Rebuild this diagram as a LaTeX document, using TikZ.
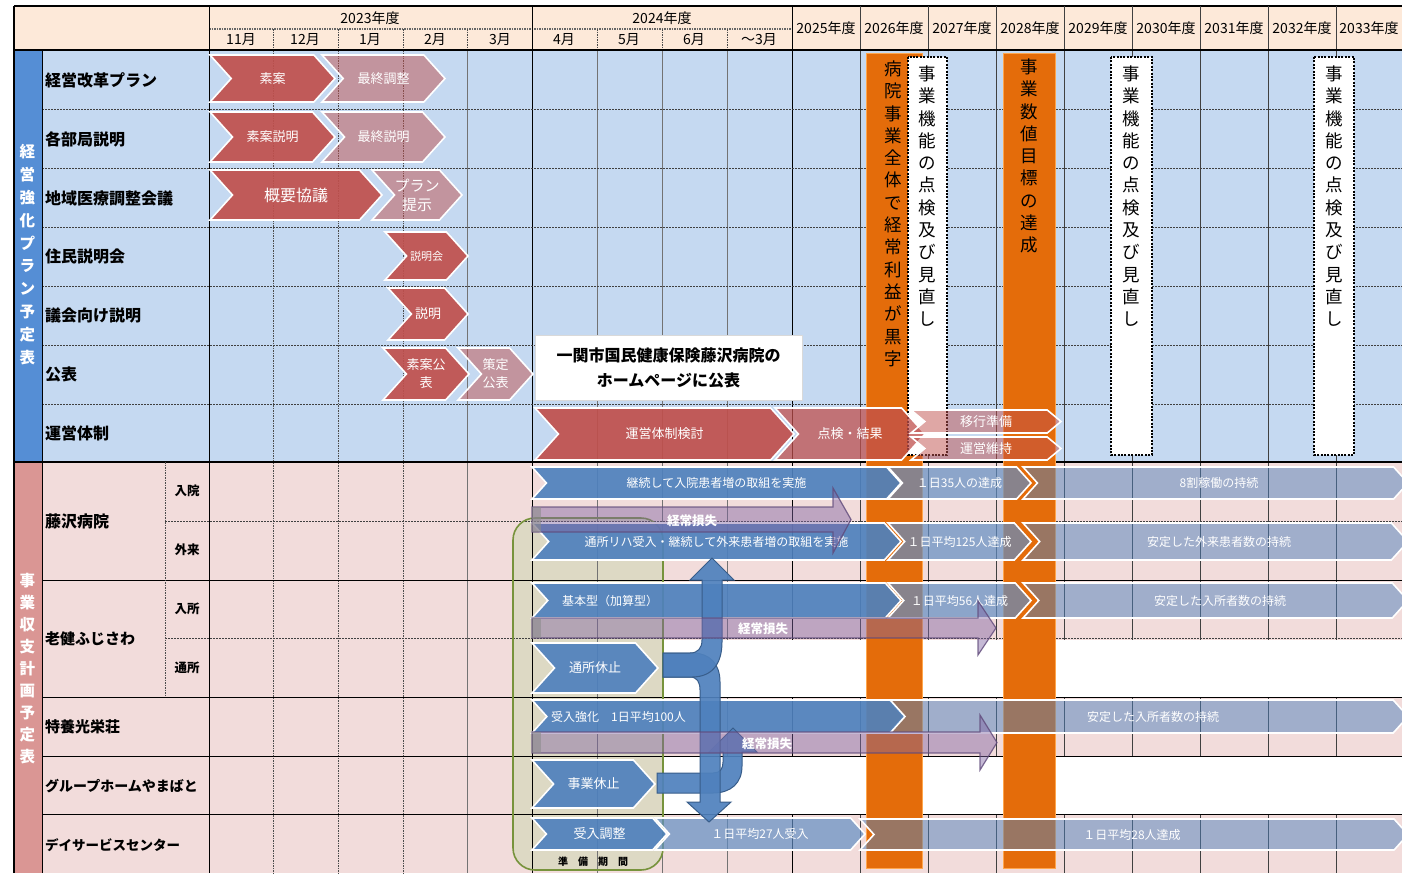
\documentclass[tikz,border=0pt]{standalone}
\usepackage{fontspec}
\setmainfont{Noto Sans CJK JP}
\definecolor{hdr}{HTML}{FDE9D9}
\definecolor{topbg}{HTML}{C5D9F1}
\definecolor{topstrip}{HTML}{558ED5}
\definecolor{botbg}{HTML}{F2DCDB}
\definecolor{botstrip}{HTML}{DA9694}
\definecolor{redc}{HTML}{C0504D}
\definecolor{bluec}{HTML}{4F81BD}
\definecolor{orangec}{HTML}{E46C0A}
\definecolor{purc}{HTML}{8064A2}
\definecolor{purd}{HTML}{5F497A}
\definecolor{beige}{HTML}{DDD9C4}
\definecolor{greenb}{HTML}{77933C}
\definecolor{bluedk}{HTML}{385D8A}
\def\chr{0.45}
\newcommand{\chev}[8]{%
  \pgfmathsetmacro\chd{\chr*(#6-#5)}%
  \pgfmathsetmacro\chm{(#5+#6)/2}%
  \path[#1] (#3,#5) -- ({#4-\chd},#5) -- (#4,\chm) -- ({#4-\chd},#6) -- (#3,#6) -- ({#3+\chd},\chm) -- cycle;
  \node[ctext, font=#7] (#2) at ({(#3+#4)/2},\chm) {#8};
}
\newcommand{\parrow}[9]{% name, x1, xhead, xtip, bartop, barbot, headtop, headbot, text-x
  \path[purarrow] (#2,#5) -- (#3,#5) -- (#3,#7) -- (#4,{(#5+#6)/2}) -- (#3,#8) -- (#3,#6) -- (#2,#6) -- cycle;
  \fill[black!45, opacity=0.6] (#2,#5) rectangle ({#2+9},#6);
  \node[losstext] (#1) at (#9,{(#5+#6)/2+1}) {経常損失};
}
\newcommand{\gridlines}{%
  \foreach \x in {273,338,403} \draw[gl1] (\x,50) -- (\x,873);
  \foreach \x in {467,597,662,727} \draw[gl2] (\x,50) -- (\x,873);
  \foreach \x in {209,532,792} \draw[gl3] (\x,50) -- (\x,873);
  \foreach \x in {860,928,996,1064,1132,1200,1268,1336} \draw[gl4] (\x,50) -- (\x,873);
  \foreach \y in {109,168,227,286,345,404} \draw[hdash] (42,\y) -- (1402,\y);
  \draw[black, line width=1.2pt] (14,462) -- (1402,462);
  \draw[hdash] (165,521) -- (1402,521);
  \draw[hsolid] (42,580) -- (1402,580);
  \draw[hdash] (165,638) -- (1402,638);
  \foreach \y in {697,756,814} \draw[hsolid] (42,\y) -- (1402,\y);
  \draw[gl1] (165,462) -- (165,697);
  \draw[black, line width=0.9pt] (42,50) -- (42,873);
}
\begin{document}
\begin{tikzpicture}[x=1pt,y=-1pt,
  gl1/.style={black!70, line width=0.8pt, dash pattern=on 1.5pt off 1pt},
  gl2/.style={black!55, line width=0.8pt},
  gl3/.style={black, line width=1pt},
  gl4/.style={black!75, line width=0.9pt},
  hdash/.style={black!75, line width=0.9pt, dash pattern=on 2pt off 1pt},
  hsolid/.style={black, line width=0.9pt},
  hdrtext/.style={inner sep=0pt, font=\fontsize{14}{14}\selectfont},
  lab/.style={anchor=west, inner sep=0pt, font=\fontsize{16}{16}\selectfont\bfseries},
  sublab/.style={inner sep=0pt, font=\fontsize{12.5}{13}\selectfont\bfseries},
  ctext/.style={text=white, inner sep=0pt, align=center},
  redchev/.style={fill=redc, fill opacity=0.92, draw=white, line width=1.6pt},
  midredchev/.style={fill=redc, fill opacity=0.75, draw=white, line width=1.6pt},
  paleredchev/.style={fill=redc, fill opacity=0.5, draw=white, line width=1.6pt},
  bluechev/.style={fill=bluec, fill opacity=0.92, draw=white, line width=1.6pt},
  midbluechev/.style={fill=bluec!90!white, fill opacity=0.7, draw=white, line width=1.6pt},
  lightbluechev/.style={fill=bluec, fill opacity=0.5, draw=white, line width=1.6pt},
  purarrow/.style={fill=purc, fill opacity=0.45, draw=purd, draw opacity=0.8, line width=1.2pt},
  losstext/.style={text=white, inner sep=0pt, font=\fontsize{12.5}{13}\selectfont\bfseries},
  bent/.style={fill=bluec, fill opacity=0.92, draw=bluedk, line width=1pt},
  orangebar/.style={fill=orangec, draw=orange!70!white, line width=0.8pt},
  dotbox/.style={fill=white, draw=black, line width=2.2pt, dash pattern=on 2pt off 1.4pt},
  vt/.style={anchor=north, inner sep=0pt, align=center, font=\fontsize{17.5}{22.3}\selectfont}
]
\useasboundingbox (0,0) rectangle (1402,873);
\clip (0,0) rectangle (1402,873);
% backgrounds
\fill[white] (0,0) rectangle (1402,873);
\fill[hdr] (14,6) rectangle (1402,50);
\fill[topbg] (42,50) rectangle (1402,462);
\fill[topstrip] (14,50) rectangle (42,462);
\fill[botbg] (42,462) rectangle (1402,873);
\fill[botstrip] (14,462) rectangle (42,873);
% header lines
\draw[black, line width=1.2pt] (14,6) -- (1402,6);
\draw[black!60, line width=1.2pt, dash pattern=on 1.5pt off 1pt] (209,29) -- (792,29);
\foreach \x in {273,338,403,467,597,662,727} \draw[gl1] (\x,29) -- (\x,50);
\foreach \x in {209,532,792} \draw[gl3] (\x,6) -- (\x,50);
\foreach \x in {860,928,996,1064,1132,1200,1268,1336} \draw[gl4] (\x,6) -- (\x,50);
\draw[black, line width=1.2pt] (14,6) -- (14,873);
% header texts
\node[hdrtext] (y23) at (370,18) {2023年度};
\node[hdrtext] (y24) at (662,18) {2024年度};
\node[hdrtext] (m11) at (241,40) {11月};
\node[hdrtext] (m12) at (305,40) {12月};
\node[hdrtext] (m1) at (370,40) {1月};
\node[hdrtext] (m2) at (435,40) {2月};
\node[hdrtext] (m3) at (500,40) {3月};
\node[hdrtext] (m4) at (564,40) {4月};
\node[hdrtext] (m5) at (629,40) {5月};
\node[hdrtext] (m6) at (694,40) {6月};
\node[hdrtext] (m3b) at (759,40) {～3月};
\node[hdrtext] (y25) at (826,28) {2025年度};
\node[hdrtext] (y26) at (894,28) {2026年度};
\node[hdrtext] (y27) at (962,28) {2027年度};
\node[hdrtext] (y28) at (1030,28) {2028年度};
\node[hdrtext] (y29) at (1098,28) {2029年度};
\node[hdrtext] (y30) at (1166,28) {2030年度};
\node[hdrtext] (y31) at (1234,28) {2031年度};
\node[hdrtext] (y32) at (1302,28) {2032年度};
\node[hdrtext] (y33) at (1369,28) {2033年度};
% grid
\gridlines
\draw[black, line width=1.6pt] (14,50) -- (1402,50);
% white rows
\fill[white] (663,639.5) rectangle (1402,696.5);
\fill[white] (663,756.5) rectangle (1402,813.5);
% preparation period box
\path[fill=beige, rounded corners=22pt] (513,518) rectangle (663,870);
\begin{scope}
  \clip[rounded corners=22pt] (513,518) rectangle (663,870);
  \gridlines
\end{scope}
\path[draw=greenb, line width=1.6pt, rounded corners=22pt] (513,518) rectangle (663,870);
% left labels
\node[anchor=north, inner sep=0pt, align=center, text=white, font=\fontsize{15.5}{22.8}\selectfont\bfseries] (s1) at (27.5,144.5) {経\\営\\強\\化\\プ\\ラ\\ン\\予\\定\\表};
\node[anchor=north, inner sep=0pt, align=center, text=white, font=\fontsize{15.5}{22}\selectfont\bfseries] (s2) at (27.5,573.5) {事\\業\\収\\支\\計\\画\\予\\定\\表};
\node[lab] (l1) at (45,80) {経営改革プラン};
\node[lab] (l2) at (45,139) {各部局説明};
\node[lab] (l3) at (45,198) {地域医療調整会議};
\node[lab] (l4) at (45,256) {住民説明会};
\node[lab] (l5) at (45,315) {議会向け説明};
\node[lab] (l6) at (45,374) {公表};
\node[lab] (l7) at (45,433) {運営体制};
\node[lab] (b1) at (45,521) {藤沢病院};
\node[lab, font=\fontsize{15}{15}\selectfont\bfseries] (b2) at (45,639) {老健ふじさわ};
\node[lab, font=\fontsize{15}{15}\selectfont\bfseries] (b3) at (45,727) {特養光栄荘};
\node[lab, font=\fontsize{14}{14}\selectfont\bfseries] (b4) at (45,786) {グループホームやまばと};
\node[lab, font=\fontsize{13.5}{14}\selectfont\bfseries] (b5) at (45,845) {デイサービスセンター};
\node[sublab] (sb1) at (187,491) {入院};
\node[sublab] (sb2) at (187,550) {外来};
\node[sublab] (sb3) at (187,609) {入所};
\node[sublab] (sb4) at (187,668) {通所};
% orange bars and dotted boxes
\path[orangebar] (866,53) rectangle (922,868);
\path[orangebar] (1003,53) rectangle (1055,868);
\path[dotbox] (908,57) rectangle (947,455);
\path[dotbox] (1111,57) rectangle (1152,455);
\path[dotbox] (1314,57) rectangle (1354,455);
\node[vt] (v1) at (893,60.5) {病\\院\\事\\業\\全\\体\\で\\経\\常\\利\\益\\が\\黒\\字};
\node[vt] (v2) at (927.5,65.5) {事\\業\\機\\能\\の\\点\\検\\及\\び\\見\\直\\し};
\node[vt] (v3) at (1029,58.5) {事\\業\\数\\値\\目\\標\\の\\達\\成};
\node[vt] (v4) at (1131.5,65.5) {事\\業\\機\\能\\の\\点\\検\\及\\び\\見\\直\\し};
\node[vt] (v5) at (1334,65.5) {事\\業\\機\\能\\の\\点\\検\\及\\び\\見\\直\\し};
% top chevrons
\chev{redchev}{c1}{210}{335}{55}{102}{\fontsize{13}{13}\selectfont}{素案}
\chev{paleredchev}{c2}{322}{445}{55}{102}{\fontsize{13}{13}\selectfont}{最終調整}
\chev{redchev}{c3}{210}{335}{112}{162}{\fontsize{13}{13}\selectfont}{素案説明}
\chev{paleredchev}{c4}{322}{445}{112}{162}{\fontsize{13}{13}\selectfont}{最終説明}
\chev{redchev}{c5}{210}{382}{170}{220}{\fontsize{16}{16}\selectfont}{概要協議}
\chev{paleredchev}{c6}{372}{462}{170}{220}{\fontsize{15}{19}\selectfont}{プラン\\提示}
\chev{redchev}{c7}{385}{468}{232}{280}{\fontsize{11}{11}\selectfont}{説明会}
\chev{redchev}{c8}{388}{468}{288}{340}{\fontsize{13}{13}\selectfont}{説明}
\chev{redchev}{c9}{383}{469}{348}{400}{\fontsize{13}{18}\selectfont}{素案公\\表}
\chev{paleredchev}{c10}{458}{533}{348}{400}{\fontsize{13}{18}\selectfont}{策定\\公表}
\node[fill=white, draw=black!15, minimum width=267pt, minimum height=65pt, inner sep=0pt, align=center, font=\fontsize{16}{25}\selectfont\bfseries] (hp) at (668.5,367.5) {一関市国民健康保険藤沢病院の\\ホームページに公表};
\chev{redchev}{c11}{535}{794}{408}{460}{\fontsize{13}{13}\selectfont}{運営体制検討}
\chev{midredchev}{c12}{775}{925}{408}{460}{\fontsize{13}{13}\selectfont}{点検・結果}
\def\chr{0.6}
\chev{paleredchev}{c13}{911}{1061}{410}{433}{\fontsize{13}{13}\selectfont}{移行準備}
\chev{paleredchev}{c14}{911}{1061}{437}{460}{\fontsize{13}{13}\selectfont}{運営維持}
\def\chr{0.45}
% bottom chevrons
\chev{bluechev}{d1}{532}{901}{467}{499}{\fontsize{12}{12}\selectfont}{継続して入院患者増の取組を実施}
\chev{midbluechev}{d2}{888}{1031}{467}{499}{\fontsize{12}{12}\selectfont}{１日35人の達成}
\chev{lightbluechev}{d3}{1023}{1408}{467}{499}{\fontsize{12}{12}\selectfont}{}
\node[ctext, font=\fontsize{12}{12}\selectfont] (d3t) at (1219,483) {8割稼働の持続};
\chev{bluechev}{d4}{532}{901}{523}{560}{\fontsize{12}{12}\selectfont}{通所リハ受入・継続して外来患者増の取組を実施}
\chev{midbluechev}{d5}{888}{1031}{523}{560}{\fontsize{12}{12}\selectfont}{１日平均125人達成}
\chev{lightbluechev}{d6}{1023}{1408}{523}{560}{\fontsize{12}{12}\selectfont}{}
\node[ctext, font=\fontsize{12}{12}\selectfont] (d6t) at (1219,541.5) {安定した外来患者数の持続};
\chev{bluechev}{d7}{532}{901}{583}{618}{\fontsize{12}{12}\selectfont}{}
\node[ctext, anchor=west, font=\fontsize{12}{12}\selectfont] (d7t) at (562,600.5) {基本型（加算型）};
\chev{midbluechev}{d8}{888}{1031}{583}{618}{\fontsize{12}{12}\selectfont}{１日平均56人達成}
\chev{lightbluechev}{d9}{1023}{1408}{583}{618}{\fontsize{12}{12}\selectfont}{}
\node[ctext, font=\fontsize{12}{12}\selectfont] (d9t) at (1220,600.5) {安定した入所者数の持続};
\chev{bluechev}{d10}{532}{658}{643}{693}{\fontsize{13}{13}\selectfont}{通所休止}
\chev{lightbluechev}{d11}{889}{1408}{700}{733}{\fontsize{12}{12}\selectfont}{}
\node[ctext, font=\fontsize{12}{12}\selectfont] (d11t) at (1153,716.5) {安定した入所者数の持続};
\chev{bluechev}{d12}{532}{905}{700}{733}{\fontsize{12}{12}\selectfont}{}
\node[ctext, anchor=west, font=\fontsize{12}{12}\selectfont] (d12t) at (551,716.5) {受入強化　1日平均100人};
\chev{bluechev}{d13}{532}{655}{760}{808}{\fontsize{13}{13}\selectfont}{事業休止}
\chev{lightbluechev}{d14}{860}{1408}{819}{850}{\fontsize{12}{12}\selectfont}{}
\node[ctext, font=\fontsize{12}{12}\selectfont] (d14t) at (1132,834.5) {１日平均28人達成};
\chev{midbluechev}{d15}{655}{865}{818}{850}{\fontsize{12}{12}\selectfont}{１日平均27人受入}
\chev{bluechev}{d16}{532}{667}{818}{850}{\fontsize{13}{13}\selectfont}{受入調整}
% bent arrows
\path[bent] (657,773) -- (713,773) .. controls (720,773) and (723,769) .. (723,762) -- (723,752) -- (709,752) -- (733,728) -- (757,752) -- (742,752) -- (742,766) .. controls (742,783) and (731,793) .. (713,793) -- (657,793) -- cycle;
\path[bent] (663,653) -- (692,653) .. controls (710,653) and (720,664) .. (720,682) -- (720,802) -- (731,802) -- (709,822) -- (687,802) -- (700,802) -- (700,690) .. controls (700,682) and (697,677) .. (690,677) -- (663,677) -- cycle;
\path[bent] (663,653) -- (690,653) .. controls (698,653) and (702,648) .. (702,640) -- (702,580) -- (690,580) -- (712,558) -- (734,580) -- (722,580) -- (722,642) .. controls (722,664) and (712,677) .. (692,677) -- (663,677) -- cycle;
% loss arrows
\parrow{p1}{532}{833}{851}{507}{532}{488}{553}{692}
\parrow{p2}{532}{978}{996}{618}{638}{601}{655}{763}
\parrow{p3}{532}{980}{997}{732}{753}{715}{770}{767}
% preparation label
\node[inner sep=0pt, font=\fontsize{10}{10}\selectfont\bfseries] (prep) at (593,862) {準　備　期　間};
\end{tikzpicture}
\end{document}
